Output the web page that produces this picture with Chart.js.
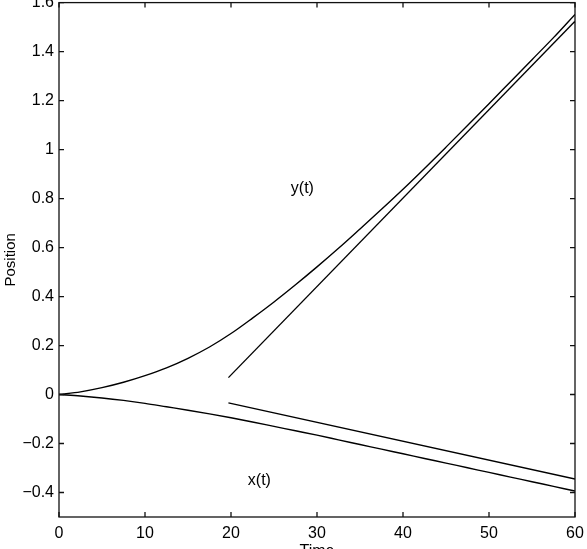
<!DOCTYPE html>
<html>
<head>
<meta charset="utf-8">
<script src="https://cdn.jsdelivr.net/npm/chart.js@4.4.1/dist/chart.umd.min.js"></script>
<style>
html, body { margin: 0; padding: 0; background: #fff; overflow: hidden; }
#wrap { position: relative; width: 587px; height: 549px; overflow: hidden; }
#wrap canvas { position: absolute; left: 0; top: -12px; }
</style>
</head>
<body>
<div id="wrap"><canvas id="posChart" width="587" height="580"></canvas></div>
<script>
// time samples for the two curves
const tCurve = [0, 2.5, 5, 7.5, 10, 12.5, 15, 17.5, 20, 22.5, 25, 27.5, 30, 32.5, 35, 37.5, 40, 42.5, 45, 47.5, 50, 52.5, 55, 57.5, 60];
const yCurve = [0, 0.011, 0.028, 0.050, 0.077, 0.109, 0.148, 0.194, 0.249, 0.312, 0.378, 0.448, 0.521, 0.597, 0.676, 0.756, 0.838, 0.923, 1.010, 1.098, 1.187, 1.277, 1.367, 1.457, 1.552];
const xCurve = [0, -0.006, -0.014, -0.024, -0.036, -0.050, -0.064, -0.079, -0.095, -0.112, -0.130, -0.148, -0.166, -0.185, -0.204, -0.223, -0.242, -0.261, -0.280, -0.299, -0.318, -0.337, -0.356, -0.375, -0.394];

// straight asymptote lines
const tLine = [19.7, 60];
const yLine = [0.069, 1.524];
const xLine = [-0.034, -0.345];

const xTicks = [0, 10, 20, 30, 40, 50, 60];
const yTicks = [-0.4, -0.2, 0, 0.2, 0.4, 0.6, 0.8, 1, 1.2, 1.4, 1.6];

const curveNames = ['y(t)', 'x(t)'];
const nameT = [28.3, 23.3];
const nameV = [0.84, -0.351];

const pts = (ts, vs) => ts.map((t, i) => ({ x: t, y: vs[i] }));
const fontFam = '"Liberation Sans", Arial, Helvetica, sans-serif';

const frame = {
    id: 'frame',
    afterDatasetsDraw(chart) {
        const { ctx, chartArea: a, scales: { x, y } } = chart;
        ctx.save();
        ctx.strokeStyle = '#111';
        ctx.lineWidth = 1.3;
        ctx.strokeRect(a.left, a.top, a.right - a.left, a.bottom - a.top);
        ctx.beginPath();
        xTicks.forEach(t => {
            const px = x.getPixelForValue(t);
            ctx.moveTo(px, a.bottom); ctx.lineTo(px, a.bottom - 5);
            ctx.moveTo(px, a.top); ctx.lineTo(px, a.top + 5);
        });
        yTicks.forEach(v => {
            const py = y.getPixelForValue(v);
            ctx.moveTo(a.left, py); ctx.lineTo(a.left + 5, py);
            ctx.moveTo(a.right, py); ctx.lineTo(a.right - 5, py);
        });
        ctx.stroke();
        ctx.fillStyle = '#000';
        ctx.font = '16px ' + fontFam;
        ctx.textAlign = 'center';
        ctx.textBaseline = 'middle';
        curveNames.forEach((s, i) => {
            ctx.fillText(s, x.getPixelForValue(nameT[i]), y.getPixelForValue(nameV[i]));
        });
        ctx.restore();
    }
};

const ctx = document.getElementById('posChart').getContext('2d');
new Chart(ctx, {
    type: 'scatter',
    data: {
        datasets: [
            { label: 'y(t)', data: pts(tCurve, yCurve) },
            { label: 'x(t)', data: pts(tCurve, xCurve) },
            { label: 'y line', data: pts(tLine, yLine) },
            { label: 'x line', data: pts(tLine, xLine) }
        ].map(d => Object.assign(d, {
            showLine: true,
            borderColor: '#000',
            borderWidth: 1.4,
            pointRadius: 0,
            cubicInterpolationMode: 'monotone',
            fill: false
        }))
    },
    options: {
        responsive: false,
        animation: false,
        layout: { padding: { top: 11, right: 12, left: 0, bottom: 0 } },
        plugins: { legend: { display: false }, tooltip: { enabled: false } },
        scales: {
            x: {
                type: 'linear',
                min: 0,
                max: 60,
                afterBuildTicks: s => { s.ticks = xTicks.map(v => ({ value: v })); },
                afterFit: s => { s.height = 51; s.paddingLeft = 0; s.paddingRight = 0; },
                grid: { display: false, drawTicks: false },
                border: { display: false },
                ticks: { color: '#000', padding: 7, maxRotation: 0, font: { family: fontFam, size: 16 } },
                title: { display: true, text: 'Time', color: '#000', padding: { top: 2, bottom: 7 }, font: { family: fontFam, size: 16 } }
            },
            y: {
                min: -0.5,
                max: 1.6,
                afterBuildTicks: s => { s.ticks = yTicks.map(v => ({ value: v })); },
                afterFit: s => { s.width = 59; },
                grid: { display: false, drawTicks: false },
                border: { display: false },
                ticks: {
                    color: '#000',
                    padding: 5,
                    font: { family: fontFam, size: 16 },
                    callback: v => (v < 0 ? '\u2212' : '') + String(Math.abs(Math.round(v * 10) / 10))
                },
                title: { display: true, text: 'Position', color: '#000', padding: { top: 2, bottom: 0 }, font: { family: fontFam, size: 15 } }
            }
        }
    },
    plugins: [frame]
});
</script>
</body>
</html>
